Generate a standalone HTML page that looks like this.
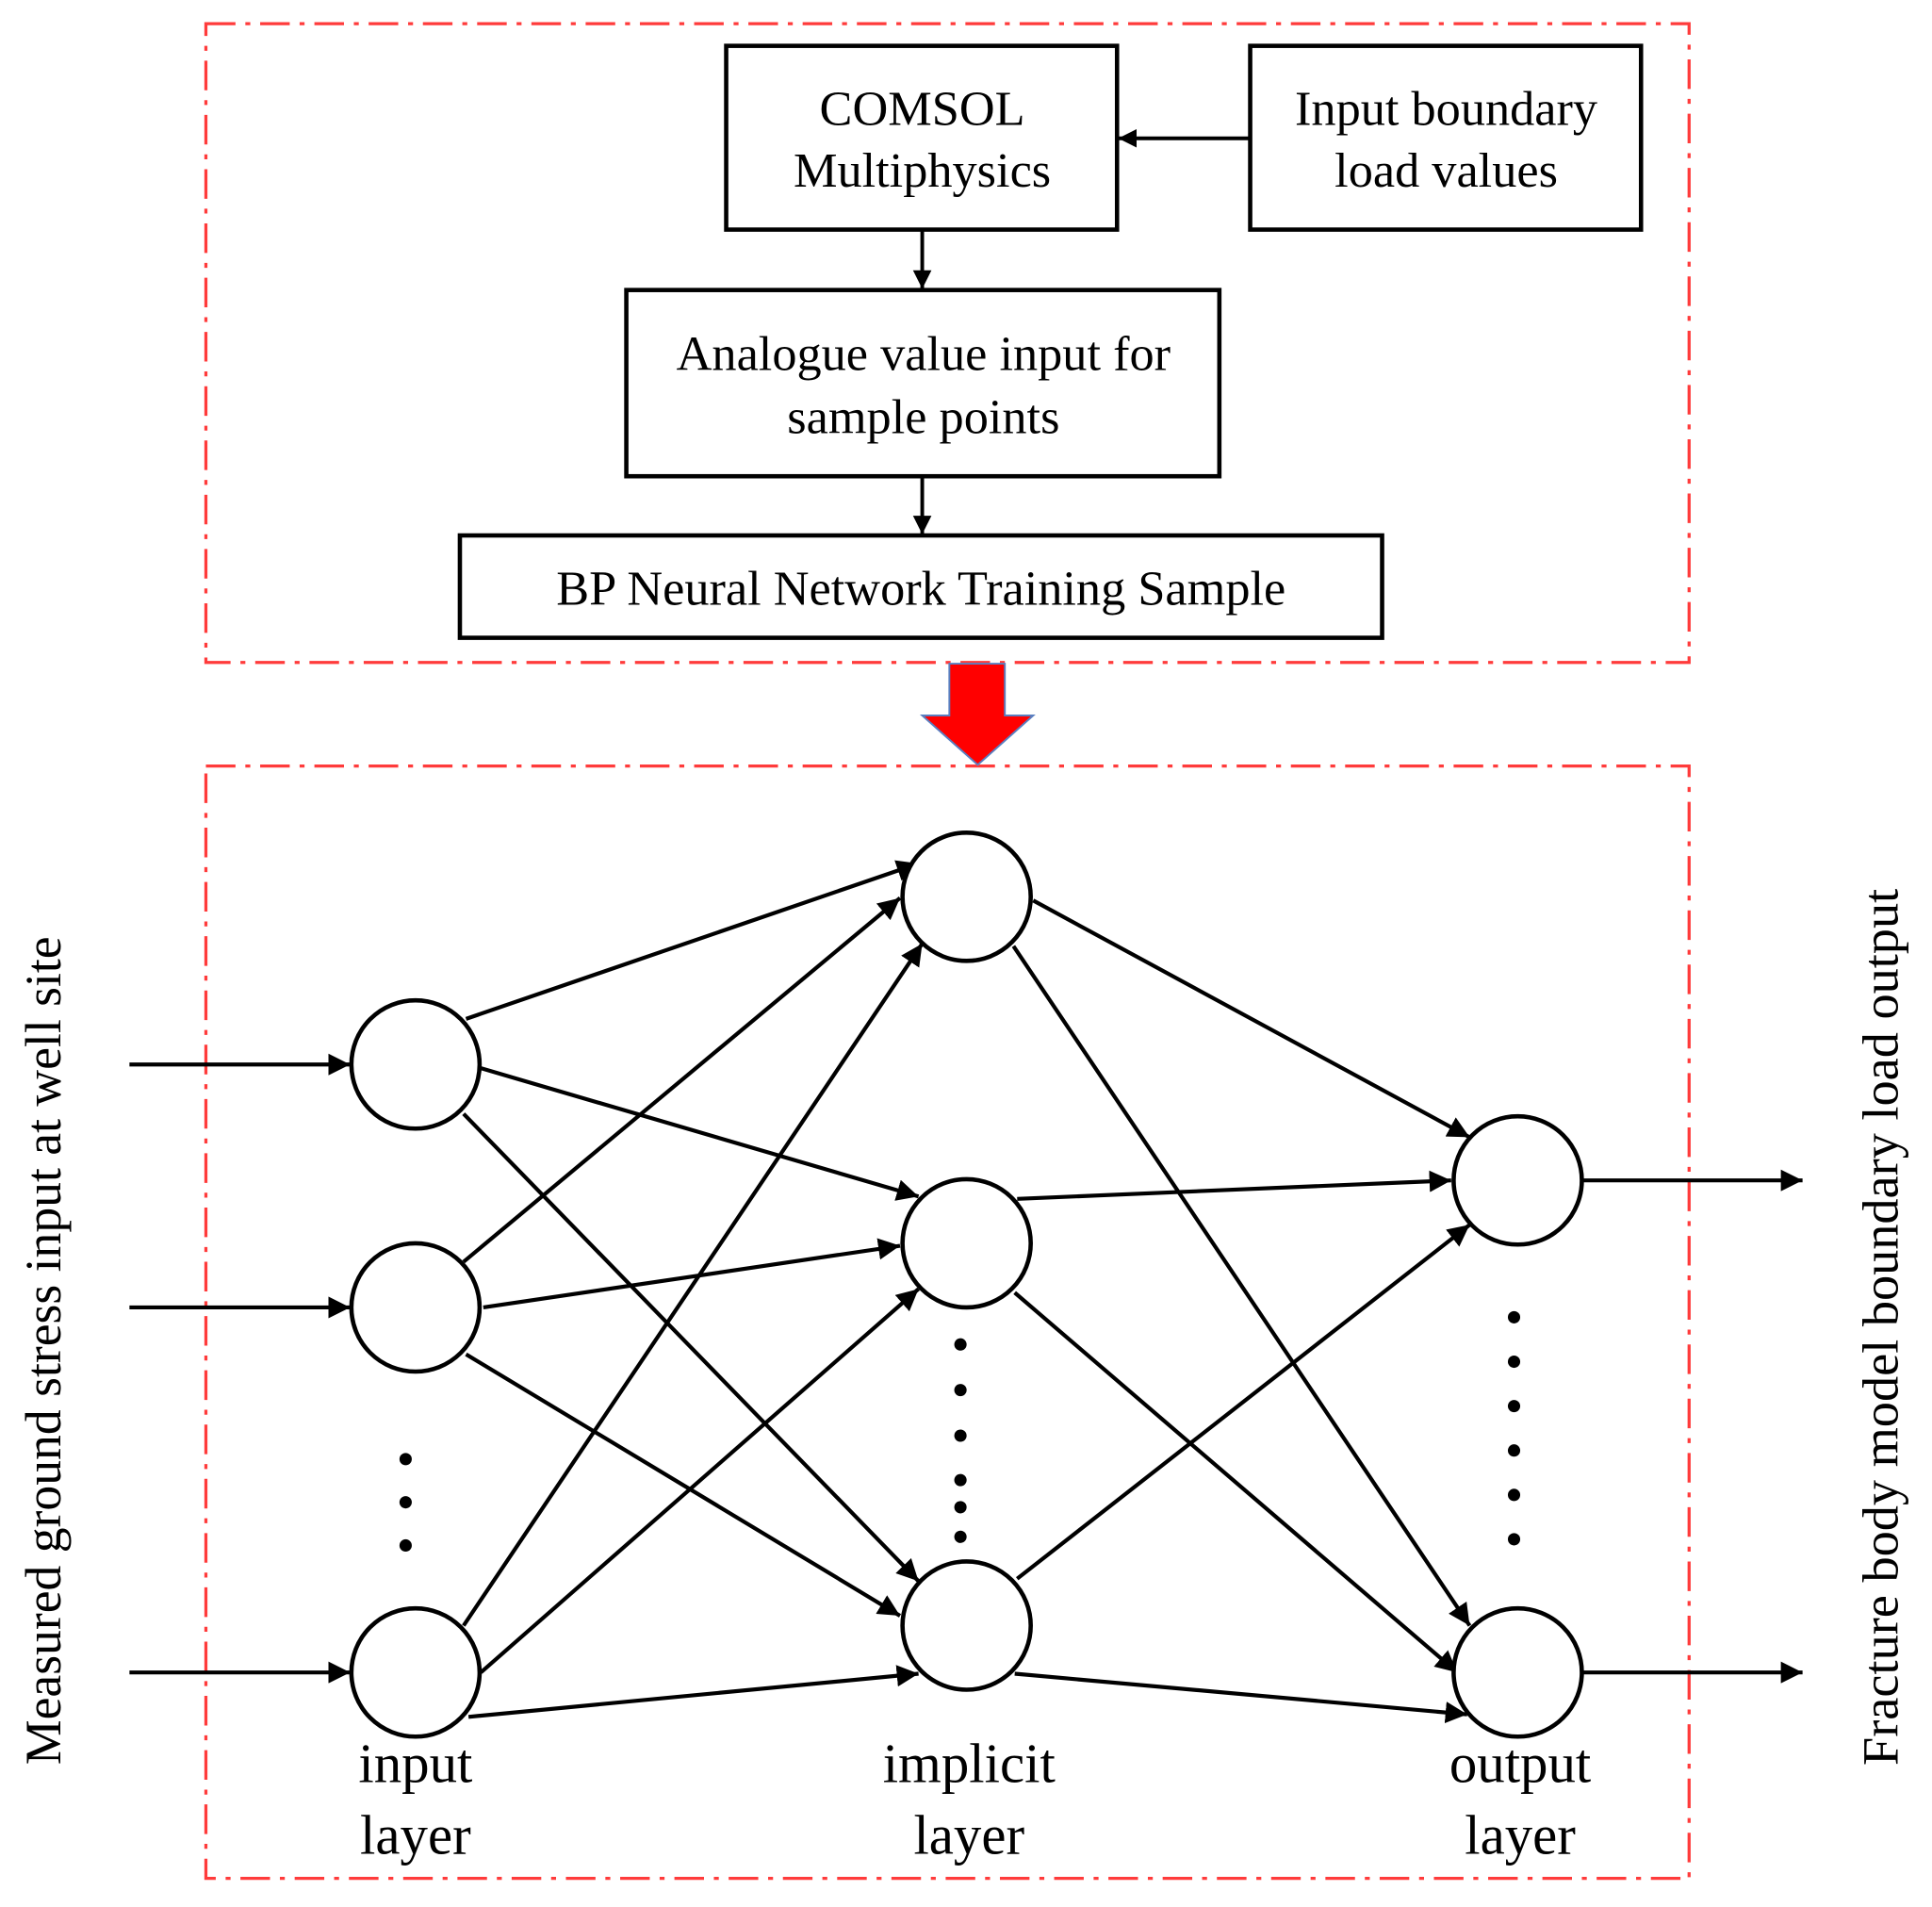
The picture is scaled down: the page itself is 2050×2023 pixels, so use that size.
<!DOCTYPE html>
<html><head><meta charset="utf-8"><style>html,body{margin:0;padding:0;background:#fff}svg{display:block}</style></head>
<body>
<svg width="2050" height="2023" viewBox="0 0 1567 1546" xmlns="http://www.w3.org/2000/svg" font-family="Liberation Serif, serif">
<defs>
<marker id="a" viewBox="0 0 10 10" refX="10" refY="5" markerWidth="5.5" markerHeight="5.5" markerUnits="strokeWidth" orient="auto"><path d="M0,0L10,5L0,10z" fill="#000"/></marker>
<marker id="b" viewBox="0 0 10 10" refX="10" refY="5" markerWidth="5" markerHeight="5" markerUnits="strokeWidth" orient="auto"><path d="M0,0L10,5L0,10z" fill="#000"/></marker>
</defs>
<g fill="none" stroke="#ff3b3b" stroke-width="2.5" stroke-dasharray="24 8 4 8">
<rect x="167" y="19" width="1203" height="518"/>
<rect x="167" y="621" width="1203" height="902"/>
</g>
<g fill="none" stroke="#000" stroke-width="3.5">
<rect x="589" y="37" width="317" height="149"/>
<rect x="1014" y="37" width="317" height="149"/>
<rect x="508" y="235" width="481" height="151"/>
<rect x="373" y="434" width="748" height="83"/>
</g>
<g stroke="#000" stroke-width="3" marker-end="url(#b)">
<line x1="1014" y1="112" x2="907" y2="112"/>
<line x1="748" y1="187" x2="748" y2="234"/>
<line x1="748" y1="387" x2="748" y2="433"/>
</g>
<g font-size="40" text-anchor="middle" fill="#000">
<text x="748" y="101">COMSOL</text>
<text x="748" y="151">Multiphysics</text>
<text x="1173" y="101">Input boundary</text>
<text x="1173" y="151">load values</text>
<text x="749" y="300">Analogue value input for</text>
<text x="749" y="351">sample points</text>
<text x="747" y="490">BP Neural Network Training Sample</text>
</g>
<path d="M770,538 L815,538 L815,580 L838,580 L793,620 L748,580 L770,580 Z" fill="#ff0000" stroke="#5a7fc0" stroke-width="1.5"/>
<g stroke="#000" stroke-width="3.2" marker-end="url(#a)">
<line x1="378" y1="826" x2="745" y2="700"/>
<line x1="390" y1="866" x2="745" y2="970"/>
<line x1="376" y1="903" x2="745" y2="1282"/>
<line x1="376" y1="1023" x2="730" y2="728"/>
<line x1="392" y1="1060" x2="730" y2="1010"/>
<line x1="378" y1="1098" x2="730" y2="1310"/>
<line x1="376" y1="1318" x2="748" y2="765"/>
<line x1="390" y1="1356" x2="745" y2="1045"/>
<line x1="380" y1="1392" x2="745" y2="1357"/>
<line x1="838" y1="730" x2="1192" y2="922"/>
<line x1="822" y1="767" x2="1192" y2="1318"/>
<line x1="825" y1="972" x2="1177" y2="957"/>
<line x1="823" y1="1048" x2="1182" y2="1356"/>
<line x1="825" y1="1280" x2="1192" y2="993"/>
<line x1="823" y1="1357" x2="1190" y2="1390"/>
<line x1="105" y1="863" x2="284" y2="863"/>
<line x1="105" y1="1060" x2="284" y2="1060"/>
<line x1="105" y1="1356" x2="284" y2="1356"/>
<line x1="1284" y1="957" x2="1462" y2="957"/>
<line x1="1284" y1="1356" x2="1462" y2="1356"/>
</g>
<g stroke="#000" stroke-width="3.5" fill="#fff">
<circle cx="337" cy="863" r="52"/><circle cx="337" cy="1060" r="52"/><circle cx="337" cy="1356" r="52"/>
<circle cx="784" cy="727" r="52"/><circle cx="784" cy="1008" r="52"/><circle cx="784" cy="1318" r="52"/>
<circle cx="1231" cy="957" r="52"/><circle cx="1231" cy="1356" r="52"/>
</g>
<g fill="#000">
<circle cx="329" cy="1183" r="5"/><circle cx="329" cy="1218" r="5"/><circle cx="329" cy="1253" r="5"/>
<circle cx="779" cy="1090" r="5"/><circle cx="779" cy="1127" r="5"/><circle cx="779" cy="1164" r="5"/><circle cx="779" cy="1200" r="5"/><circle cx="779" cy="1222" r="5"/><circle cx="779" cy="1246" r="5"/>
<circle cx="1228" cy="1068" r="5"/><circle cx="1228" cy="1104" r="5"/><circle cx="1228" cy="1140" r="5"/><circle cx="1228" cy="1176" r="5"/><circle cx="1228" cy="1212" r="5"/><circle cx="1228" cy="1248" r="5"/>
</g>
<g font-size="45" text-anchor="middle" fill="#000">
<text x="337" y="1445">input</text><text x="337" y="1503">layer</text>
<text x="786" y="1445">implicit</text><text x="786" y="1503">layer</text>
<text x="1233" y="1445">output</text><text x="1233" y="1503">layer</text>
<text font-size="41" transform="translate(49,1095) rotate(-90)">Measured ground stress input at well site</text>
<text font-size="41.5" transform="translate(1539,1076) rotate(-90)">Fracture body model boundary load output</text>
</g>
</svg>
</body></html>
